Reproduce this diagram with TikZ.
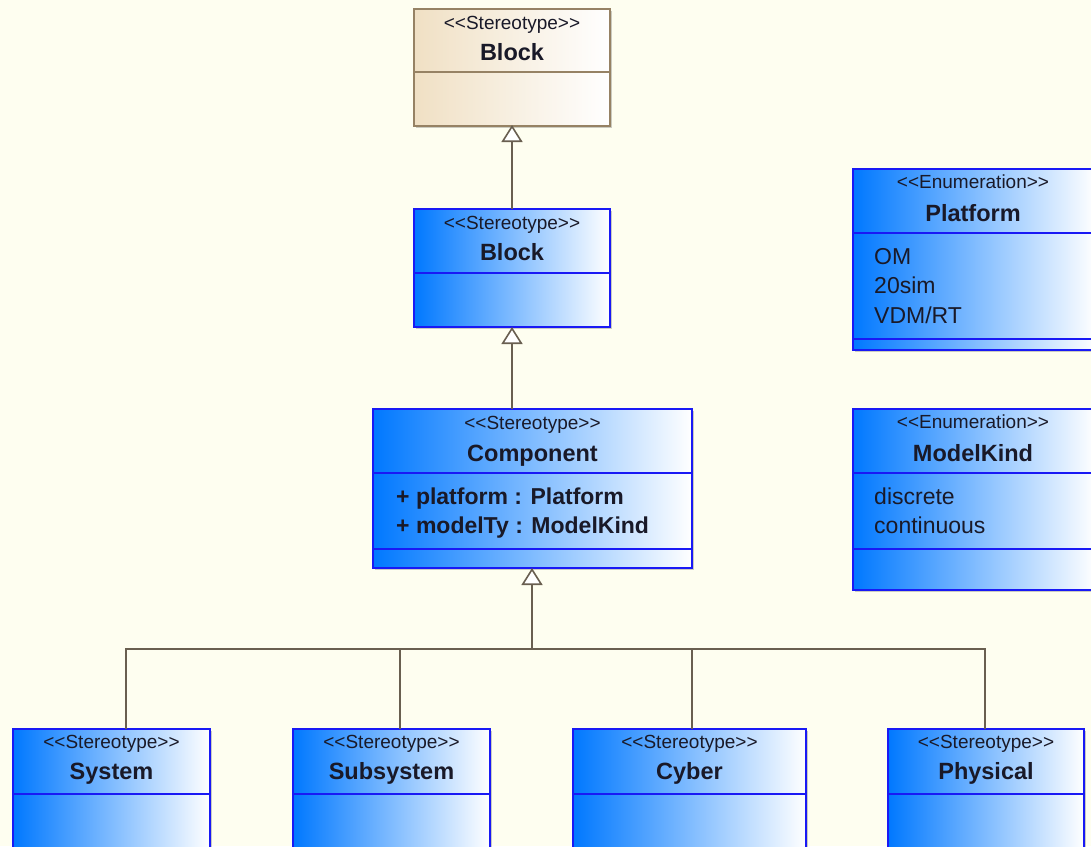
\documentclass[tikz,border=0pt]{standalone}
\usepackage{fontspec}
\setmainfont{Liberation Sans}[Ligatures=TeXOff]
\usetikzlibrary{arrows.meta,shadows,calc}
\definecolor{bg}{RGB}{254,254,240}
\definecolor{umlblue}{RGB}{0,120,255}
\definecolor{umlborder}{RGB}{25,25,245}
\definecolor{tanleft}{RGB}{240,224,196}
\definecolor{tanborder}{RGB}{150,130,100}
\definecolor{conn}{RGB}{105,95,80}
\definecolor{txt}{RGB}{25,25,40}
\begin{document}
\begin{tikzpicture}[x=1pt,y=-1pt,
  cls/.style={anchor=north west, inner sep=0pt, outer sep=0pt, line width=1.6pt,
    drop shadow={shadow xshift=2pt, shadow yshift=-2pt, fill=black, opacity=0.2}},
  bluecls/.style={cls, draw=umlborder, left color=umlblue, right color=white},
  tancls/.style={cls, draw=tanborder, left color=tanleft, right color=white},
  bluediv/.style={draw=umlborder, line width=1.6pt},
  tandiv/.style={draw=tanborder, line width=1.6pt},
  stereo/.style={anchor=base, inner sep=0pt, text=txt, font=\fontsize{19}{21}\selectfont},
  cname/.style={anchor=base, inner sep=0pt, text=txt, font=\fontsize{23.5}{25}\selectfont\bfseries},
  item/.style={anchor=base west, inner sep=0pt, text=txt, font=\fontsize{23}{25}\selectfont},
  bitem/.style={anchor=base west, inner sep=0pt, text=txt, font=\fontsize{23}{25}\selectfont\bfseries},
  link/.style={draw=conn, line width=1.6pt},
  gen/.style={link, -{Triangle[length=17pt, width=21pt, fill=white]}}
]
\clip (0,0) rectangle (1091,846);
\fill[bg] (0,0) rectangle (1091,846);

% --- class boxes ---
\node[tancls, minimum width=196, minimum height=117] (block1) at (414,9) {};
\node[bluecls, minimum width=196, minimum height=118] (block2) at (414,209) {};
\node[bluecls, minimum width=319, minimum height=159] (comp) at (373,409) {};
\node[bluecls, minimum width=242, minimum height=181] (plat) at (853,169) {};
\node[bluecls, minimum width=242, minimum height=181] (mk) at (853,409) {};
\node[bluecls, minimum width=197, minimum height=140] (sys) at (13,729) {};
\node[bluecls, minimum width=197, minimum height=140] (subs) at (293,729) {};
\node[bluecls, minimum width=233, minimum height=140] (cyber) at (573,729) {};
\node[bluecls, minimum width=196, minimum height=140] (phys) at (888,729) {};

% --- dividers ---
\draw[tandiv] ([yshift=-63pt]block1.north west) -- ([yshift=-63pt]block1.north east);
\draw[bluediv] ([yshift=-64pt]block2.north west) -- ([yshift=-64pt]block2.north east);
\draw[bluediv] ([yshift=-64pt]comp.north west) -- ([yshift=-64pt]comp.north east);
\draw[bluediv] ([yshift=-140pt]comp.north west) -- ([yshift=-140pt]comp.north east);
\draw[bluediv] ([yshift=-64pt]plat.north west) -- ([yshift=-64pt]plat.north east);
\draw[bluediv] ([yshift=-170pt]plat.north west) -- ([yshift=-170pt]plat.north east);
\draw[bluediv] ([yshift=-64pt]mk.north west) -- ([yshift=-64pt]mk.north east);
\draw[bluediv] ([yshift=-140pt]mk.north west) -- ([yshift=-140pt]mk.north east);
\foreach \n in {sys,subs,cyber,phys}
  \draw[bluediv] ([yshift=-65pt]\n.north west) -- ([yshift=-65pt]\n.north east);

% --- texts ---
\node[stereo] (block1s) at ([yshift=-20pt]block1.north) {<<Stereotype>>};
\node[cname]  (block1n) at ([yshift=-51pt]block1.north) {Block};
\node[stereo] (block2s) at ([yshift=-20pt]block2.north) {<<Stereotype>>};
\node[cname]  (block2n) at ([yshift=-51pt]block2.north) {Block};
\node[stereo] (comps) at ([yshift=-20pt]comp.north) {<<Stereotype>>};
\node[cname]  (compn) at ([yshift=-52pt]comp.north) {Component};
\node[bitem]  (compa1) at ([xshift=23pt,yshift=-95pt]comp.north west) {+ platform : Platform};
\node[bitem]  (compa2) at ([xshift=23pt,yshift=-124pt]comp.north west) {+ modelTy : ModelKind};

\node[stereo] (plats) at ([xshift=-1pt,yshift=-19pt]plat.north) {<<Enumeration>>};
\node[cname]  (platn) at ([xshift=-1pt,yshift=-52pt]plat.north) {Platform};
\node[item] (plat1) at ([xshift=21pt,yshift=-95pt]plat.north west) {OM};
\node[item] (plat2) at ([xshift=21pt,yshift=-124pt]plat.north west) {20sim};
\node[item] (plat3) at ([xshift=21pt,yshift=-154pt]plat.north west) {VDM/RT};

\node[stereo] (mks) at ([xshift=-1pt,yshift=-19pt]mk.north) {<<Enumeration>>};
\node[cname]  (mkn) at ([xshift=-1pt,yshift=-52pt]mk.north) {ModelKind};
\node[item] (mk1) at ([xshift=21pt,yshift=-95pt]mk.north west) {discrete};
\node[item] (mk2) at ([xshift=21pt,yshift=-124pt]mk.north west) {continuous};

\node[stereo] (syss) at ([yshift=-19pt]sys.north) {<<Stereotype>>};
\node[cname]  (sysn) at ([yshift=-50pt]sys.north) {System};
\node[stereo] (subss) at ([yshift=-19pt]subs.north) {<<Stereotype>>};
\node[cname]  (subsn) at ([yshift=-50pt]subs.north) {Subsystem};
\node[stereo] (cybers) at ([yshift=-19pt]cyber.north) {<<Stereotype>>};
\node[cname]  (cybern) at ([yshift=-50pt]cyber.north) {Cyber};
\node[stereo] (physs) at ([yshift=-19pt]phys.north) {<<Stereotype>>};
\node[cname]  (physn) at ([yshift=-50pt]phys.north) {Physical};

% --- generalisations ---
\draw[gen, shorten >=-1pt] (block2.north) -- (block1.south);
\draw[gen] (block2.south |- comp.north) -- (block2.south);
\coordinate (bus) at ([xshift=-0.5pt,yshift=-81pt]comp.south);
\draw[gen] (bus) -- (bus |- comp.south);
\draw[link] ([xshift=14.5pt]sys.north) |- (bus);
\draw[link] ([xshift=8.5pt]subs.north) |- (bus);
\draw[link] ([xshift=2.5pt]cyber.north) |- (bus);
\draw[link] ([xshift=-1pt]phys.north) |- (bus);
\end{tikzpicture}
\end{document}
